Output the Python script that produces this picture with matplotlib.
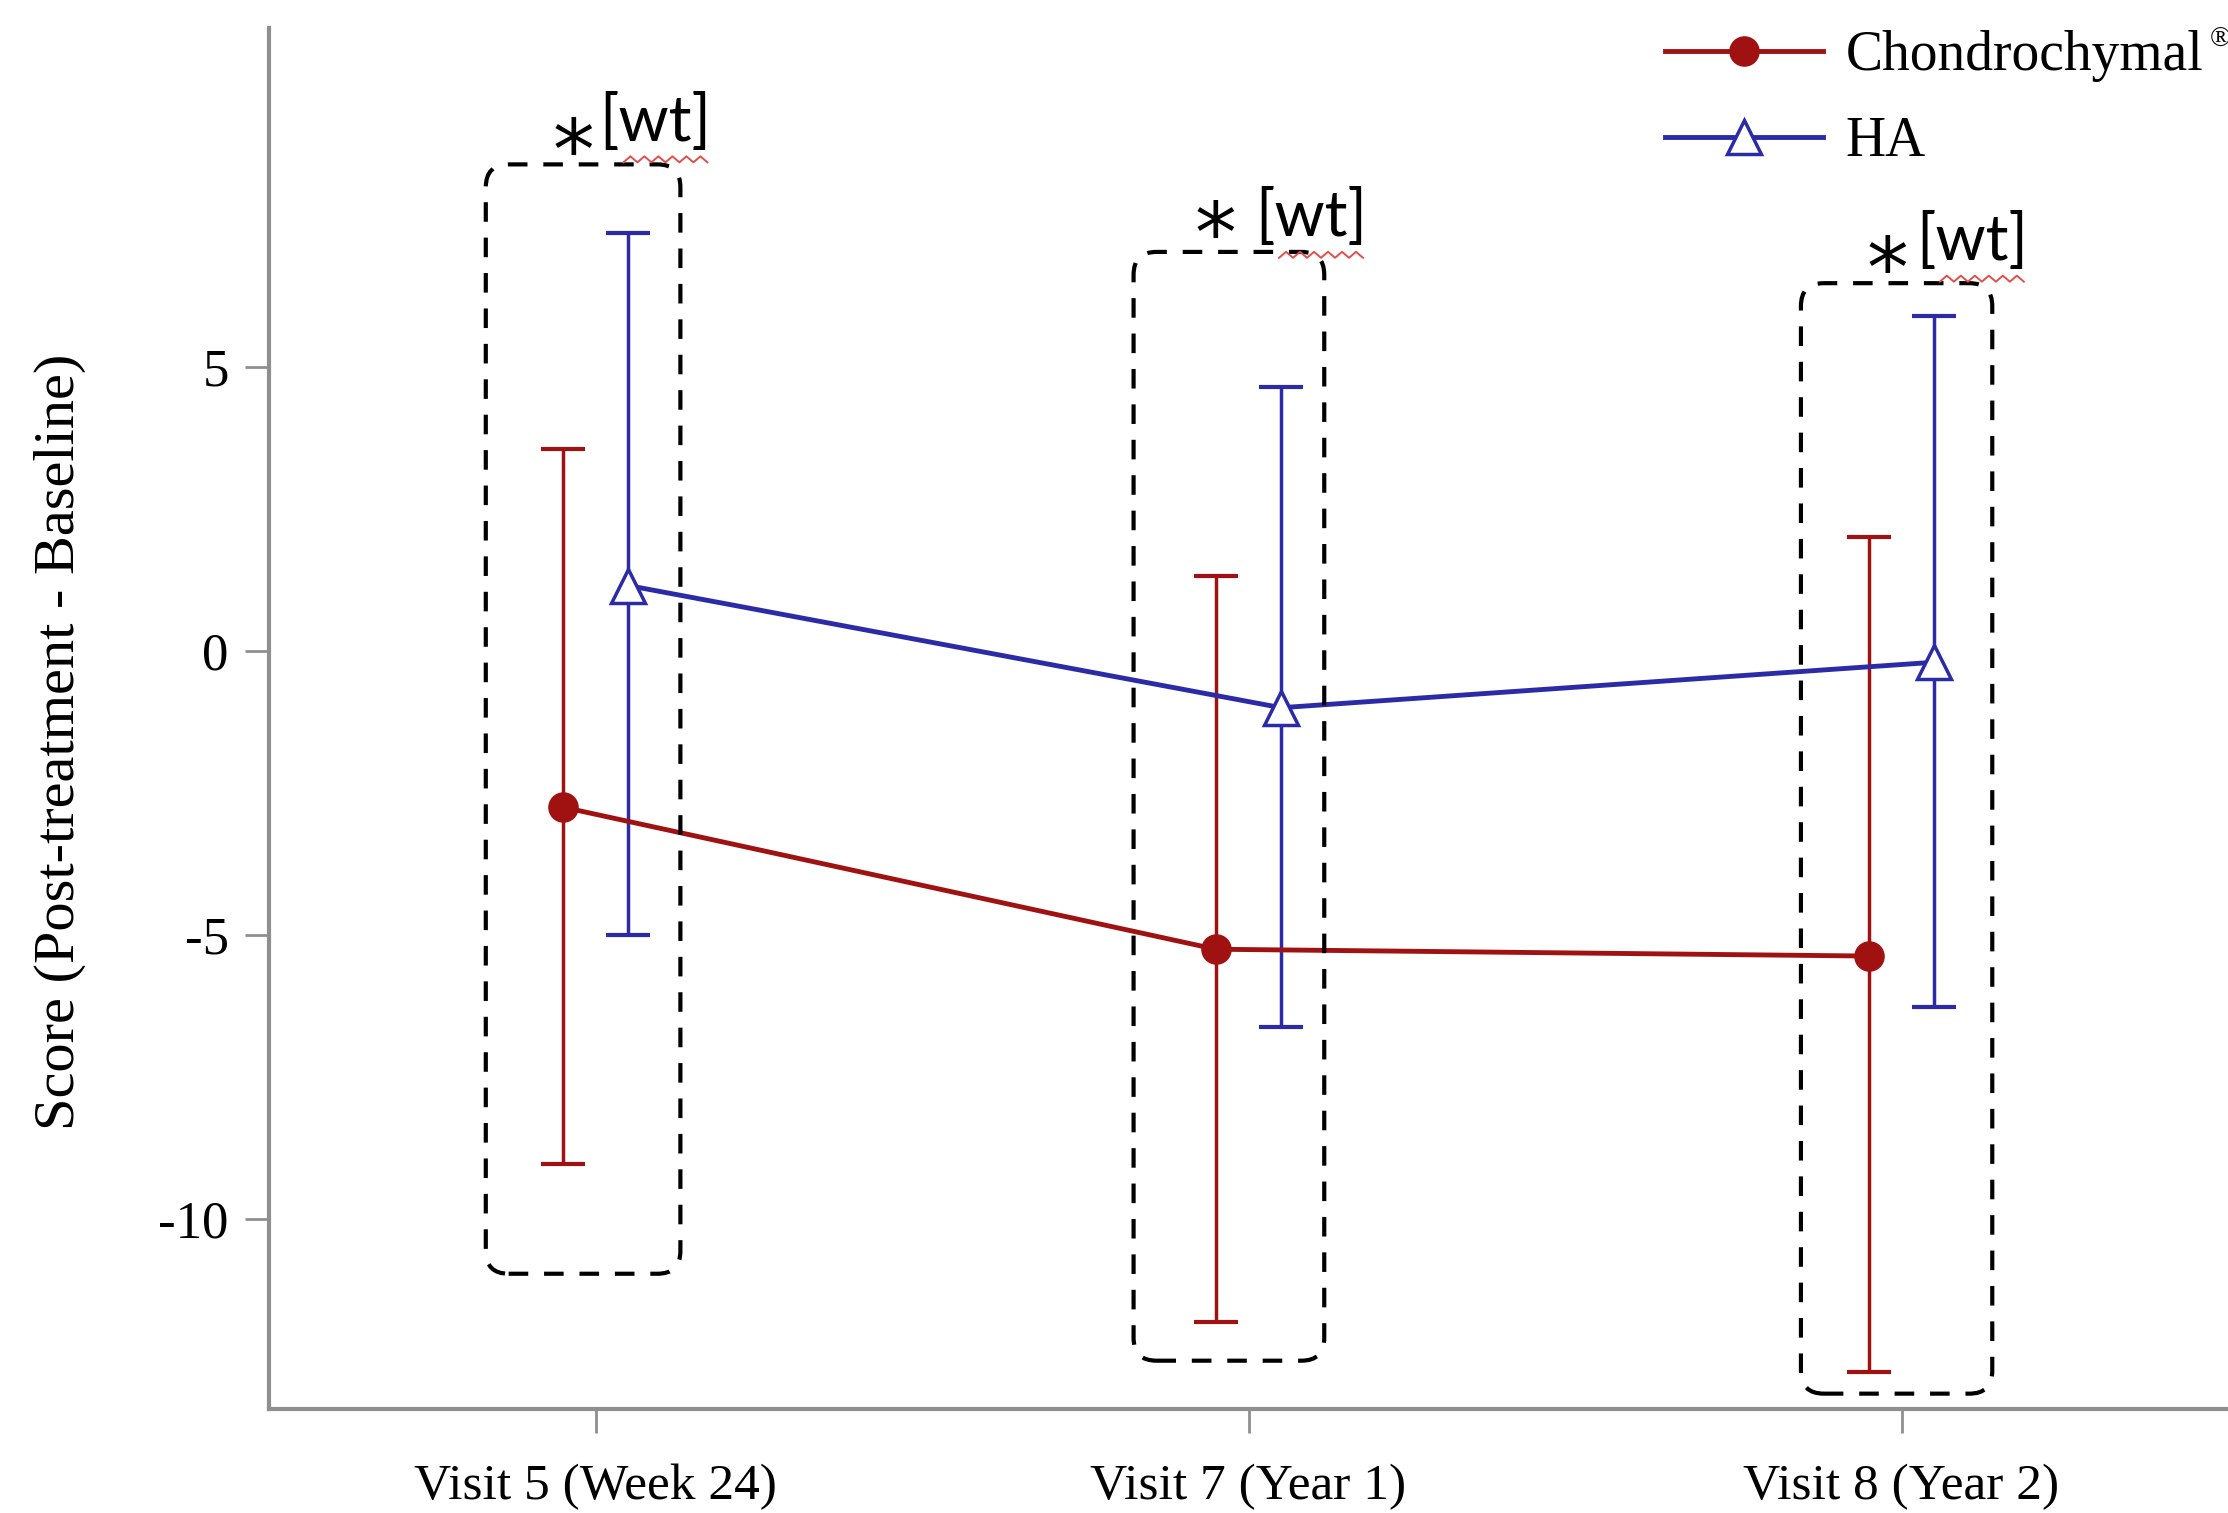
import numpy as np
import matplotlib
matplotlib.use('Agg')
import matplotlib.pyplot as plt
from matplotlib.patches import FancyBboxPatch
from matplotlib.transforms import Affine2D

# 数据：三个访视点的均值与置信区间
visits = ['Visit 5 (Week 24)', 'Visit 7 (Year 1)', 'Visit 8 (Year 2)']
chondro_mean = [-2.75, -5.25, -5.37]
chondro_low = [-9.03, -11.81, -12.69]
chondro_high = [3.55, 1.32, 2.0]
ha_mean = [1.15, -1.0, -0.2]
ha_low = [-5.0, -6.62, -6.27]
ha_high = [7.35, 4.65, 5.9]
yticks = [5, 0, -5, -10]
ytick_labels = ['5', '0', '-5', '-10']

# 虚线框 (左, 右偏移, 下, 上) 与标注
box_left = [-0.168, -0.176, -0.154]
box_right = [0.130, 0.116, 0.139]
box_bottom = [-10.96, -12.49, -13.07]
box_top = [8.56, 7.02, 6.47]
star_x = [-0.034, -0.05, -0.022]
star_y = [8.72, 7.25, 6.64]
wt_x = [0.006, 0.01, 0.022]
wt_y = [9.3, 7.62, 7.2]

red = '#A01212'
blue = '#2B2BA8'
serif = 'Liberation Serif'

fig = plt.figure(figsize=(22.28, 15.13), dpi=100)
ax = fig.add_axes([269 / 2228, 1 - 1409 / 1513, 1 - 269 / 2228, (1409 - 28) / 1513])

x = np.arange(len(visits))
off = 0.05
cm = np.array(chondro_mean)
hm = np.array(ha_mean)
c_err = [cm - np.array(chondro_low), np.array(chondro_high) - cm]
h_err = [hm - np.array(ha_low), np.array(ha_high) - hm]

ax.errorbar(x - off, cm, yerr=c_err, fmt='none', ecolor=red, elinewidth=2.5,
            capsize=16, capthick=3, zorder=2)
ax.errorbar(x + off, hm, yerr=h_err, fmt='none', ecolor=blue, elinewidth=2.5,
            capsize=16, capthick=3, zorder=2)
ax.plot(x - off, cm, color=red, lw=3.5, marker='o', ms=21, mfc=red, mec=red,
        label='Chondrochymal', zorder=3)
ax.plot(x + off, hm, color=blue, lw=3.5, marker='^', ms=24, mfc='white', mec=blue,
        mew=2.5, label='HA', zorder=3)

ax.set_xlim(-0.5, 2.5)
ax.set_ylim(-13.34, 10.96)
ax.set_xticks(x)
ax.set_xticklabels(visits, fontsize=37, family=serif)
ax.set_yticks(yticks)
ax.set_yticklabels(ytick_labels, fontsize=38, family=serif)
for s in ['top', 'right']:
    ax.spines[s].set_visible(False)
for s in ['left', 'bottom']:
    ax.spines[s].set_color('#8f8f8f')
    ax.spines[s].set_linewidth(3)
ax.tick_params(axis='both', length=17, width=2, color='#8f8f8f')
ax.tick_params(axis='y', pad=12)
ax.tick_params(axis='x', pad=22)

fig.text(60 / 2228, 1 - 742 / 1513, 'Score (Post-treatment - Baseline)', rotation=90,
         ha='center', va='center', fontsize=42, family=serif)

# 圆角虚线框
aspect = (652.3 / 56.84)
for i in range(3):
    x0 = x[i] + box_left[i]
    w = box_right[i] - box_left[i]
    h = box_top[i] - box_bottom[i]
    p = FancyBboxPatch((x0, box_bottom[i]), w, h,
                       boxstyle='round,pad=0,rounding_size=0.035',
                       mutation_aspect=aspect, fill=False, ec='black', lw=3,
                       ls=(0, (4.7, 3.8)), zorder=4, clip_on=False)
    ax.add_patch(p)
    ax.text(x[i] + star_x[i], star_y[i], '*', fontsize=60, family='DejaVu Sans',
            ha='center', va='center', zorder=5)
    ax.text(x[i] + wt_x[i], wt_y[i], '[wt]', fontsize=46, family='Lato',
            ha='left', va='center', zorder=5)
    # 拼写检查的红色波浪线
    px, py = ax.transData.transform((x[i] + wt_x[i], wt_y[i]))
    zx = np.arange(0, 85, 7)
    zy = np.where(np.arange(len(zx)) % 2 == 0, 0, 6)
    tr = Affine2D().translate(px + 24, py - 40)
    ax.plot(zx, zy, color='#E0504A', lw=1.4, transform=tr, clip_on=False, zorder=6)

leg = fig.legend(loc='upper left', bbox_to_anchor=(1665 / 2228, 1 - 30 / 1513),
                 frameon=False, borderpad=0, borderaxespad=0, handlelength=2.85,
                 handletextpad=0.4, labelspacing=0.62,
                 prop={'family': serif, 'size': 40})
fig.text(2210 / 2228, 1 - 40 / 1513, '®', fontsize=20, family=serif, ha='left', va='center')

fig.savefig('out.png', dpi=100)
